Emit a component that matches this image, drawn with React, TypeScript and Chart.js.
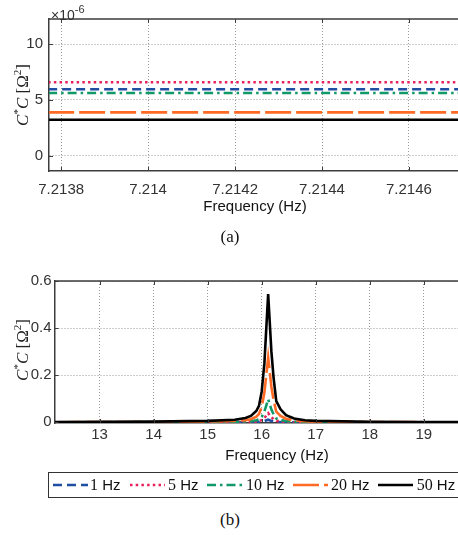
import React, { useEffect, useRef } from "react";
import { Chart, registerables } from "chart.js";
Chart.register(...registerables);

// ---------- Data: panel (a) ----------
const freqA = [7.21377, 7.21473];
const hz1A = [5.96e-6, 5.96e-6];
const hz5A = [6.59e-6, 6.59e-6];
const hz10A = [5.62e-6, 5.62e-6];
const hz20A = [3.88e-6, 3.88e-6];
const hz50A = [3.21e-6, 3.21e-6];
const xTicksA = [7.2138, 7.214, 7.2142, 7.2144, 7.2146];
const xTickLabelsA = ["7.2138", "7.214", "7.2142", "7.2144", "7.2146"];
const yTicksA = [0, 5e-6, 10e-6];
const yTickLabelsA = ["0", "5", "10"];

// ---------- Data: panel (b) ----------
const freqB = [12.17, 13, 14, 15, 15.5, 15.7, 15.8, 15.9, 15.95, 16.0, 16.05, 16.12, 16.18, 16.22, 16.27, 16.35, 16.45, 16.6, 16.8, 17, 18, 19, 20.43];
const hz1B = [0, 0, 0.0001, 0.0001, 0.0002, 0.0004, 0.0005, 0.001, 0.0014, 0.0026, 0.005, 0.011, 0.006, 0.0038, 0.0018, 0.0011, 0.0006, 0.0003, 0.0002, 0.0001, 0, 0, 0];
const hz5B = [0.0001, 0.0002, 0.0002, 0.0004, 0.0008, 0.0013, 0.0019, 0.0034, 0.005, 0.0093, 0.018, 0.039, 0.021, 0.0135, 0.0064, 0.0039, 0.0021, 0.0011, 0.0006, 0.0004, 0.0001, 0.0001, 0.0001];
const hz10B = [0.0002, 0.0004, 0.0006, 0.001, 0.002, 0.0032, 0.0048, 0.0085, 0.0125, 0.023, 0.045, 0.098, 0.054, 0.034, 0.016, 0.0098, 0.0054, 0.0029, 0.0016, 0.0011, 0.0004, 0.0002, 0.0002];
const hz20B = [0.0005, 0.001, 0.0015, 0.003, 0.0055, 0.009, 0.013, 0.024, 0.035, 0.065, 0.125, 0.275, 0.15, 0.095, 0.045, 0.027, 0.015, 0.008, 0.0045, 0.003, 0.001, 0.0005, 0.0005];
const hz50B = [0.001, 0.002, 0.003, 0.006, 0.011, 0.018, 0.027, 0.048, 0.07, 0.13, 0.25, 0.545, 0.3, 0.19, 0.09, 0.055, 0.03, 0.016, 0.009, 0.006, 0.002, 0.001, 0.001];
const xTicksB = [13, 14, 15, 16, 17, 18, 19, 20];
const xTickLabelsB = ["13", "14", "15", "16", "17", "18", "19", "20"];
const yTicksB = [0, 0.2, 0.4, 0.6];
const yTickLabelsB = ["0", "0.2", "0.4", "0.6"];

const seriesNames = ["1", "5", "10", "20", "50"];

// ---------- Styles ----------
const COLORS = ["#1f4ea3", "#e8215a", "#12996a", "#ff6a24", "#000000"];
const DASHES = [[9, 5], [2.5, 3.2], [9, 4, 2.5, 4], [26, 5], []];
const AXIS = "#3c3c3c";
const GRID = "#9a9a9a";
const TICK_COLOR = "#333";
const SANS = "'Liberation Sans', Arial, sans-serif";
const SERIF = "'Liberation Serif', 'Times New Roman', serif";

const framePlugin = {
  id: "frame",
  afterDraw(chart: any) {
    const { ctx, chartArea: a, scales } = chart;
    ctx.save();
    ctx.strokeStyle = AXIS;
    ctx.lineWidth = 1.5;
    ctx.beginPath();
    ctx.moveTo(a.left, a.top);
    ctx.lineTo(a.right, a.top);
    ctx.lineTo(a.right, a.bottom);
    ctx.stroke();
    ctx.lineWidth = 1;
    ctx.beginPath();
    for (const t of scales.x.ticks) {
      const px = Math.round(scales.x.getPixelForValue(t.value)) + 0.5;
      ctx.moveTo(px, a.bottom);
      ctx.lineTo(px, a.bottom - 4);
      ctx.moveTo(px, a.top);
      ctx.lineTo(px, a.top + 4);
    }
    for (const t of scales.y.ticks) {
      const py = Math.round(scales.y.getPixelForValue(t.value)) + 0.5;
      ctx.moveTo(a.left, py);
      ctx.lineTo(a.left + 4, py);
      ctx.moveTo(a.right, py);
      ctx.lineTo(a.right - 4, py);
    }
    ctx.stroke();
    ctx.restore();
  },
};

type Cfg = {
  freq: number[];
  series: number[][];
  xMin: number; xMax: number; yMin: number; yMax: number;
  xTicks: number[]; xLabels: string[];
  yTicks: number[]; yLabels: string[];
  yAxisWidth: number; xAxisHeight: number; padTop: number;
  xPad: number; yPad: number; lineWidth: number;
};

function makeConfig(c: Cfg): any {
  const datasets = c.series.map((vals, i) => ({
    label: seriesNames[i] + " Hz",
    data: c.freq.map((x, j) => ({ x, y: vals[j] })),
    borderColor: COLORS[i],
    backgroundColor: "transparent",
    borderDash: DASHES[i],
    borderWidth: c.lineWidth,
    borderCapStyle: "butt",
    pointRadius: 0,
    tension: 0,
    fill: false,
    order: 4 - i,
  }));
  const font = { family: SANS, size: 15 };
  return {
    type: "line",
    data: { datasets },
    plugins: [framePlugin],
    options: {
      animation: false,
      responsive: false,
      devicePixelRatio: 1,
      layout: { padding: { top: c.padTop, left: 0, right: 0, bottom: 0 } },
      plugins: { legend: { display: false }, tooltip: { enabled: false } },
      events: [],
      scales: {
        x: {
          type: "linear",
          min: c.xMin,
          max: c.xMax,
          afterBuildTicks: (s: any) => { s.ticks = c.xTicks.map((v) => ({ value: v })); },
          afterFit: (s: any) => { s.height = c.xAxisHeight; },
          ticks: {
            autoSkip: false, maxRotation: 0, padding: c.xPad, color: TICK_COLOR, font,
            callback: (_v: any, i: number) => c.xLabels[i],
          },
          grid: { color: GRID, lineWidth: 1, drawTicks: false },
          border: { display: true, color: AXIS, width: 1.5, dash: [1, 2] },
        },
        y: {
          type: "linear",
          min: c.yMin,
          max: c.yMax,
          afterBuildTicks: (s: any) => { s.ticks = c.yTicks.map((v) => ({ value: v })); },
          afterFit: (s: any) => { s.width = c.yAxisWidth; },
          ticks: {
            autoSkip: false, padding: c.yPad, color: TICK_COLOR, font,
            callback: (_v: any, i: number) => c.yLabels[i],
          },
          grid: { color: GRID, lineWidth: 1, drawTicks: false },
          border: { display: true, color: AXIS, width: 1.5, dash: [1, 2] },
        },
      },
    },
  };
}

function ChartCanvas({ cfg, width, height, top }: { cfg: Cfg; width: number; height: number; top: number }) {
  const ref = useRef<HTMLCanvasElement | null>(null);
  useEffect(() => {
    if (!ref.current) return;
    const chart = new Chart(ref.current, makeConfig(cfg));
    return () => chart.destroy();
  }, []);
  return (
    <canvas
      ref={ref}
      width={width}
      height={height}
      style={{ position: "absolute", left: 0, top, width, height }}
    />
  );
}

function YTitle({ cx, cy }: { cx: number; cy: number }) {
  return (
    <div
      style={{
        position: "absolute", left: cx - 60, top: cy - 12, width: 120, height: 24,
        lineHeight: "24px", textAlign: "center", transform: "rotate(-90deg)",
        fontFamily: SERIF, fontSize: 17, color: "#222", whiteSpace: "nowrap",
      }}
    >
      <i>C</i><sup style={{ fontSize: 11 }}>*</sup><i>C</i> [Ω<sup style={{ fontSize: 11 }}>2</sup>]
    </div>
  );
}

function Centered({ cx, cy, children, font, size }: any) {
  return (
    <div
      style={{
        position: "absolute", left: cx - 100, top: cy - 12, width: 200, height: 24,
        lineHeight: "24px", textAlign: "center", fontFamily: font, fontSize: size,
        color: "#111", whiteSpace: "nowrap",
      }}
    >
      {children}
    </div>
  );
}

const legendLineX = [52.7, 130, 206.7, 292.7, 378];
const legendTextX = [90, 168, 246, 331, 416.7];

export default function App() {
  const cfgA: Cfg = {
    freq: freqA,
    series: [hz1A, hz5A, hz10A, hz20A, hz50A],
    xMin: 7.213772, xMax: 7.214722, yMin: -1.39e-6, yMax: 12.27e-6,
    xTicks: xTicksA, xLabels: xTickLabelsA, yTicks: yTicksA, yLabels: yTickLabelsA,
    yAxisWidth: 49, xAxisHeight: 29, padTop: 19, xPad: 10, yPad: 6, lineWidth: 2.6,
  };
  const cfgB: Cfg = {
    freq: freqB,
    series: [hz1B, hz5B, hz10B, hz20B, hz50B],
    xMin: 12.165, xMax: 20.43, yMin: -0.003, yMax: 0.6,
    xTicks: xTicksB, xLabels: xTickLabelsB, yTicks: yTicksB, yLabels: yTickLabelsB,
    yAxisWidth: 54.5, xAxisHeight: 27, padTop: 31, xPad: 3, yPad: 3, lineWidth: 2.6,
  };
  return (
    <div style={{ position: "fixed", left: 0, top: 0, width: 458, height: 535, overflow: "hidden", background: "#fff" }}>
      <ChartCanvas cfg={cfgA} width={462} height={200} top={0} />
      <ChartCanvas cfg={cfgB} width={501} height={200} top={250} />
      <div style={{ position: "absolute", left: 51, top: 0, fontFamily: SANS, fontSize: 14, color: "#333", whiteSpace: "nowrap", lineHeight: "20px" }}>
        ×10<sup style={{ fontSize: 11, position: "relative", top: -1 }}>-6</sup>
      </div>
      <YTitle cx={17} cy={95} />
      <YTitle cx={17} cy={350} />
      <Centered cx={255} cy={206} font={SANS} size={15}>Frequency (Hz)</Centered>
      <Centered cx={277} cy={455} font={SANS} size={15}>Frequency (Hz)</Centered>
      <Centered cx={230} cy={237} font={SERIF} size={17}>(a)</Centered>
      <Centered cx={230} cy={520} font={SERIF} size={17}>(b)</Centered>
      <div style={{ position: "absolute", left: 47.5, top: 471.5, width: 460, height: 26, border: "1.5px solid #333", boxSizing: "border-box" }} />
      {seriesNames.map((n, i) => (
        <React.Fragment key={n}>
          <svg style={{ position: "absolute", left: legendLineX[i], top: 480 }} width={36} height={10}>
            <line x1={0} y1={5} x2={35} y2={5} stroke={COLORS[i]} strokeWidth={2.6}
              strokeDasharray={DASHES[i].length ? DASHES[i].join(" ") : undefined} />
          </svg>
          <div style={{ position: "absolute", left: legendTextX[i], top: 474, lineHeight: "22px", fontSize: 15, color: "#111", whiteSpace: "nowrap" }}>
            <span style={{ fontFamily: SERIF, fontSize: 16 }}>{n}</span>
            <span style={{ fontFamily: SANS }}> Hz</span>
          </div>
        </React.Fragment>
      ))}
    </div>
  );
}
